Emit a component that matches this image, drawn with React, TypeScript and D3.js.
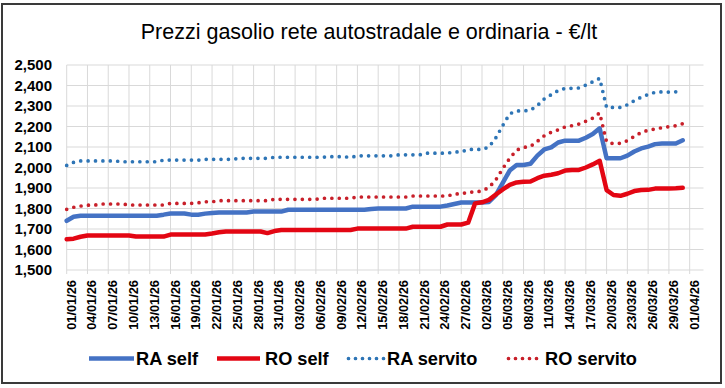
import React from "react";
import * as d3 from "d3";

const title = "Prezzi gasolio rete autostradale e ordinaria - €/lt";

const tickLabels = [
  "01/01/26","04/01/26","07/01/26","10/01/26","13/01/26","16/01/26","19/01/26","22/01/26",
  "25/01/26","28/01/26","31/01/26","03/02/26","06/02/26","09/02/26","12/02/26","15/02/26",
  "18/02/26","21/02/26","24/02/26","27/02/26","02/03/26","05/03/26","08/03/26","11/03/26",
  "14/03/26","17/03/26","20/03/26","23/03/26","26/03/26","29/03/26","01/04/26",
];

const yTicks = [1500, 1600, 1700, 1800, 1900, 2000, 2100, 2200, 2300, 2400, 2500];

// daily values 01/01/26 .. 31/03/26
const raSelf = [
  1740,1760,1765,1765,1765,1765,1765,1765,1765,1765,1765,1765,1765,1765,1770,1776,1776,1776,1770,1770,
  1775,1778,1781,1781,1781,1781,1781,1785,1785,1785,1785,1785,1794,1794,1794,1794,1794,1794,1794,1794,
  1794,1794,1794,1794,1798,1800,1800,1800,1800,1800,1809,1809,1809,1809,1809,1815,1822,1829,1829,1829,
  1829,1832,1865,1925,1985,2012,2012,2018,2058,2088,2098,2122,2131,2131,2131,2145,2163,2191,2045,2045,
  2045,2058,2078,2093,2102,2114,2117,2117,2117,2133,
];

const roSelf = [
  1650,1653,1662,1668,1668,1668,1668,1668,1668,1668,1663,1663,1663,1663,1663,1673,1673,1673,1673,1673,
  1673,1678,1684,1688,1688,1688,1688,1688,1688,1680,1690,1695,1695,1695,1695,1695,1695,1695,1695,1695,
  1695,1695,1702,1702,1702,1702,1702,1702,1702,1702,1711,1711,1711,1711,1711,1722,1722,1722,1731,1825,
  1830,1842,1868,1893,1915,1927,1930,1932,1948,1960,1965,1972,1985,1988,1988,2000,2015,2033,1890,1866,
  1862,1872,1885,1890,1891,1897,1898,1898,1899,1901,
];

const raServito = [
  2010,2025,2032,2032,2032,2032,2032,2032,2028,2028,2028,2028,2028,2028,2036,2036,2036,2036,2036,2036,
  2040,2040,2040,2040,2040,2045,2045,2045,2045,2045,2050,2050,2050,2050,2050,2050,2050,2050,2053,2053,
  2053,2049,2057,2057,2057,2057,2057,2057,2062,2062,2062,2062,2070,2070,2070,2070,2076,2076,2088,2088,
  2088,2100,2145,2205,2262,2276,2276,2280,2302,2335,2355,2375,2386,2386,2388,2402,2418,2435,2293,2293,
  2293,2306,2326,2343,2356,2367,2369,2368,2369,2374,
];

const roServito = [
  1796,1806,1812,1816,1816,1822,1822,1822,1822,1817,1817,1817,1817,1817,1817,1825,1825,1825,1825,1828,
  1833,1833,1838,1838,1838,1838,1838,1838,1838,1838,1845,1845,1845,1845,1845,1845,1845,1850,1850,1850,
  1850,1850,1856,1856,1856,1856,1856,1856,1856,1856,1861,1861,1861,1861,1861,1861,1871,1871,1880,1880,
  1886,1902,1940,1995,2045,2085,2098,2103,2128,2155,2172,2184,2198,2204,2212,2226,2241,2266,2125,2116,
  2118,2131,2152,2171,2182,2188,2194,2199,2204,2214,
];

const seriesNames = ["RA self", "RO self", "RA servito", "RO servito"];

const W = 725;
const H = 388;
const plotL = 66.7;
const plotR = 703.5;
const plotT = 65;
const plotB = 270;

const FONT = "'Liberation Sans', Arial, sans-serif";

export default function App() {
  const x = d3.scaleLinear().domain([0, 92]).range([plotL, plotR]);
  const y = d3.scaleLinear().domain([1500, 2500]).range([plotB, plotT]);
  const line = d3
    .line<number>()
    .x((_, i) => x(i))
    .y((v) => y(v));

  const series = [
    { name: seriesNames[0], data: raSelf, color: "#4472C4", dotted: false },
    { name: seriesNames[1], data: roSelf, color: "#E30613", dotted: false },
    { name: seriesNames[2], data: raServito, color: "#2E75B6", dotted: true },
    { name: seriesNames[3], data: roServito, color: "#C8202A", dotted: true },
  ];

  const legendX = [89, 217, 347, 507];
  const legendTextX = [136, 265, 387, 545];
  const legendLen = [45, 43, 37, 36];
  const legendY = 358.5;

  return (
    <svg
      width={W}
      height={H}
      style={{ position: "absolute", left: 0, top: 0, background: "#fff" }}
      fontFamily={FONT}
    >
      <rect x={0} y={0} width={W} height={H} fill="#fff" />
      <rect x={2} y={4} width={719} height={379} fill="#fff" stroke="#3a3a3a" strokeWidth={2} />

      <text x={369} y={38.5} textAnchor="middle" fontSize={21.5} fill="#000">
        {title}
      </text>

      {/* horizontal grid */}
      {yTicks.map((t) => (
        <line key={"h" + t} x1={plotL} x2={plotR} y1={y(t)} y2={y(t)} stroke="#d9d9d9" strokeWidth={1} />
      ))}
      {/* vertical grid */}
      {tickLabels.map((lab, i) => (
        <line key={"v" + lab} x1={x(i * 3)} x2={x(i * 3)} y1={plotT} y2={plotB + 4} stroke="#d9d9d9" strokeWidth={1} />
      ))}

      {/* y labels */}
      {yTicks.map((t) => (
        <text
          key={"yl" + t}
          x={52}
          y={y(t)}
          dy="0.36em"
          textAnchor="end"
          fontSize={15}
          fontWeight="bold"
          fill="#000"
        >
          {d3.format(",")(t)}
        </text>
      ))}

      {/* x labels */}
      {tickLabels.map((lab, i) => {
        const tx = x(i * 3) + 9;
        const ty = 280;
        return (
          <text
            key={"xl" + lab}
            x={tx}
            y={ty}
            transform={`rotate(-90 ${tx} ${ty})`}
            textAnchor="end"
            fontSize={12.8}
            fontWeight="bold"
            fill="#000"
          >
            {lab}
          </text>
        );
      })}

      {/* series */}
      {series.map((s) => (
        <path
          key={s.name}
          d={line(s.data) || ""}
          fill="none"
          stroke={s.color}
          strokeWidth={s.dotted ? 3.7 : 4.5}
          strokeLinecap="round"
          strokeLinejoin="round"
          strokeDasharray={s.dotted ? "0 7.4" : undefined}
        />
      ))}

      {/* legend */}
      {series.map((s, i) => (
        <g key={"lg" + s.name}>
          <line
            x1={legendX[i] + (s.dotted ? 1.5 : 0)}
            x2={legendX[i] + legendLen[i]}
            y1={legendY}
            y2={legendY}
            stroke={s.color}
            strokeWidth={s.dotted ? 3.7 : 4.5}
            strokeLinecap={s.dotted ? "round" : "butt"}
            strokeDasharray={s.dotted ? "0 7" : undefined}
          />
          <text x={legendTextX[i]} y={365} fontSize={18.2} fontWeight="bold" fill="#000">
            {s.name}
          </text>
        </g>
      ))}
    </svg>
  );
}
